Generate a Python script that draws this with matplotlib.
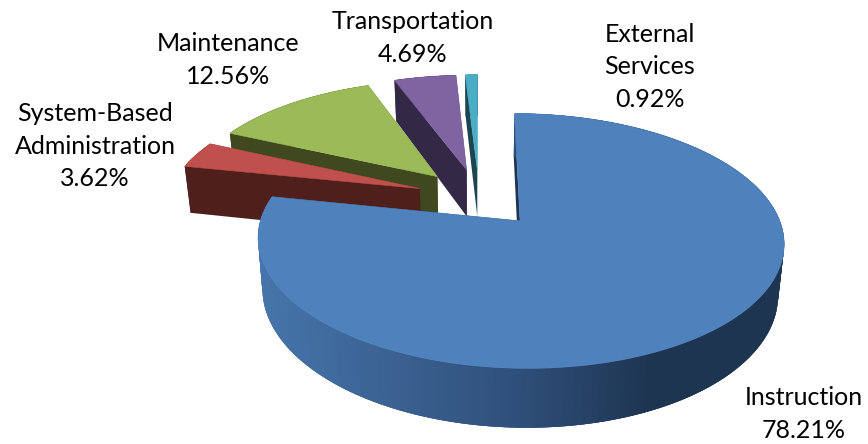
import numpy as np
from matplotlib import pyplot as plt
from matplotlib.colors import LinearSegmentedColormap
from matplotlib.patches import Polygon

# clockwise from 12 o'clock
names = ["Instruction", "System-Based\nAdministration", "Maintenance", "Transportation", "External\nServices"]
values = [78.21, 3.62, 12.56, 4.69, 0.92]
top_colors = ["#4f81bd", "#c0504d", "#9bbb59", "#8064a2", "#4bacc6"]
wall_colors = ["#1e3552", "#4f1f1c", "#3f481f", "#332845", "#1d4550"]

label_xy = [(804, 414), (95, 146), (228, 60), (413, 38), (650, 67)]

# projection of the pie plane, in pixels
X0, Y0 = 479, 197.5
R, B = 252, 117
PERSP = 0.153
EXPLODE = 0.25
HEIGHT = 48.5
BOTTOM_SHRINK = 0.98

blue_wall = LinearSegmentedColormap.from_list(
    "blue_wall", [(0, "#4675ab"), (0.5, "#2f4f7a"), (0.75, "#1e3552"), (1, "#1e3552")]
)


def project(u, v):
    s = 1 / (1 - PERSP * v)
    x = X0 + R * u * s
    y = Y0 + B * v * s
    bx = X0 + (x - X0) * BOTTOM_SHRINK
    by = y + HEIGHT * s
    return x, y, bx, by


fig = plt.figure(figsize=(8.68, 4.44), dpi=100)
ax = fig.add_axes([0, 0, 1, 1])
ax.set_xlim(0, 868)
ax.set_ylim(444, 0)
ax.axis("off")

edges = np.cumsum([0] + values) / 100 * 2 * np.pi

# back slices first, the big one last
for i in range(len(values) - 1, -1, -1):
    a0, a1 = edges[i], edges[i + 1]
    mid = (a0 + a1) / 2
    cu, cv = EXPLODE * np.sin(mid), -EXPLODE * np.cos(mid)
    th = np.linspace(a0, a1, max(int((a1 - a0) * 120), 8))
    u = cu + np.sin(th)
    v = cv - np.cos(th)
    x, y, bx, by = project(u, v)
    ax_, ay_, abx, aby = project(cu, cv)

    # flat cut faces
    for j in (0, -1):
        ax.add_patch(Polygon([(x[j], y[j]), (ax_, ay_), (abx, aby), (bx[j], by[j])],
                             fc=wall_colors[i], ec="none"))
    # outer wall, each strip overlaps the next so no seams show
    for j in range(len(th) - 1):
        if i == 0:
            c = blue_wall(np.clip((x[j] - 258) / 525, 0, 1))
        else:
            c = wall_colors[i]
        k = min(j + 3, len(th) - 1)
        ax.add_patch(Polygon([(x[j], y[j]), (x[k], y[k]), (bx[k], by[k]), (bx[j], by[j])],
                             fc=c, ec="none"))
    # top
    ax.add_patch(Polygon(np.column_stack([np.r_[ax_, x], np.r_[ay_, y]]),
                         fc=top_colors[i], ec=top_colors[i], lw=0.4))

for name, val, (lx, ly) in zip(names, values, label_xy):
    ax.text(lx, ly, f"{name}\n{val:.2f}%", ha="center", va="center", family="Lato",
            fontsize=18, color="black", linespacing=1.5)

plt.savefig("out.png", dpi=100)
